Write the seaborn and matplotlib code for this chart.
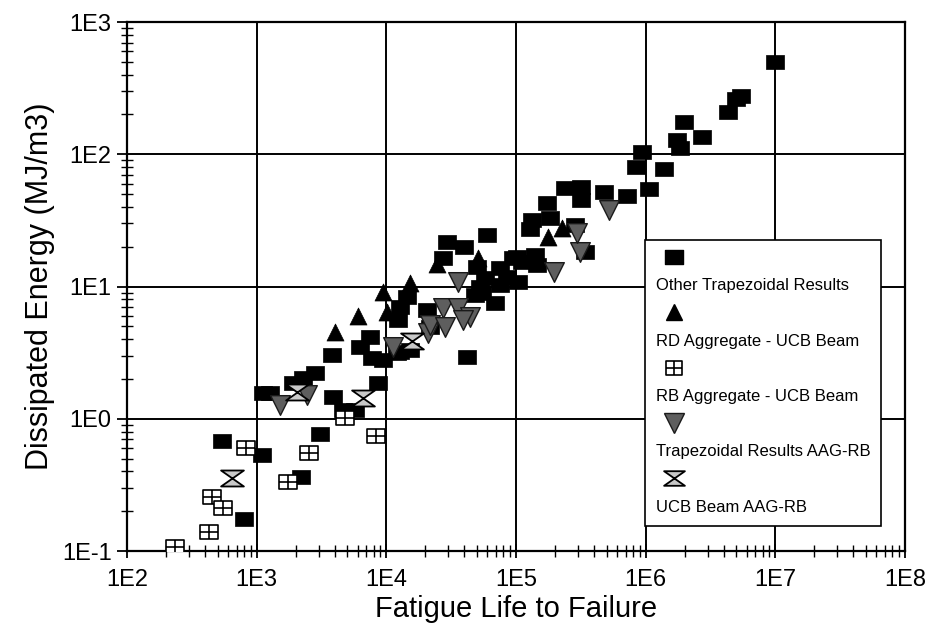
import numpy as np
import pandas as pd
import matplotlib
matplotlib.use("Agg")
import matplotlib.pyplot as plt
from matplotlib.path import Path
from matplotlib.lines import Line2D
from matplotlib.ticker import LogLocator, NullFormatter, FixedLocator, FixedFormatter
import seaborn as sns

# ---------------- data ----------------
other_x = [1.0e7, 5.0e6, 5.4e6, 4.3e6, 1.97e6, 2.7e6, 1.74e6, 1.84e6, 9.4e5, 8.4e5,
           1.38e6, 1.06e6, 7.2e5, 4.8e5, 3.2e5, 2.4e5, 3.2e5, 1.73e5, 1.82e5, 1.33e5,
           1.28e5, 2.84e5, 3.4e5, 9.5e4, 1.4e5, 1.45e5, 1.11e5, 7.5e4, 1.04e5, 8.5e4,
           5.8e4, 5.3e4, 4.8e4, 6.9e4, 6.0e4, 2.93e4, 4.0e4, 2.73e4, 5.0e4, 1.44e4,
           1.27e4, 1.23e4, 7.5e3, 6.3e3, 7.7e3, 9.4e3, 1.21e4, 3.8e3, 2.82e3, 2.28e3,
           1.9e3, 1.12e3, 1.27e3, 8.6e3, 3.9e3, 4.6e3, 5.7e3, 2.06e4, 2.17e4, 4.2e4,
           5.5e4, 7.5e4, 1.27e4, 1.52e4, 540, 1.1e3, 800, 2.2e3, 3.08e3, 1.02e5]
other_y = [500, 260, 275, 208, 175, 135, 128, 111, 104, 80,
           77, 55, 48, 52, 57, 56, 45, 43, 33, 32,
           27, 29, 18.2, 16.4, 17.3, 14.5, 15.3, 13.8, 10.8, 11.8,
           11.6, 9.9, 8.6, 7.5, 24.5, 21.7, 19.9, 16.4, 14.0, 8.3,
           7.0, 5.6, 4.15, 3.5, 2.88, 2.78, 3.14, 3.03, 2.22, 2.03,
           1.86, 1.57, 1.57, 1.86, 1.46, 1.16, 1.16, 6.6, 4.9, 2.93,
           8.9, 10.3, 3.2, 3.3, 0.68, 0.53, 0.175, 0.363, 0.77, 16.7]

rd_x = [4.0e3, 6.0e3, 9.4e3, 1.01e4, 1.52e4, 2.45e4, 5.1e4, 1.76e5, 2.26e5]
rd_y = [4.5, 6.0, 9.1, 6.4, 10.6, 14.8, 16.4, 23.7, 27.7]

rb_x = [234, 428, 452, 549, 826, 1.74e3, 2.53e3, 8.3e3, 4.8e3]
rb_y = [0.107, 0.139, 0.256, 0.211, 0.60, 0.333, 0.55, 0.74, 1.01]

trap_x = [1.51e3, 2.44e3, 1.12e4, 2.1e4, 2.17e4, 2.73e4, 3.56e4, 4.4e4, 2.83e4, 3.9e4,
          3.56e4, 1.96e5, 3.1e5, 2.95e5, 5.2e5]
trap_y = [1.27, 1.51, 3.5, 4.45, 5.1, 6.9, 6.9, 5.9, 4.95, 5.6,
          10.8, 12.9, 18.2, 25.4, 37.9]

ucb_x = [646, 2.05e3, 6.6e3, 1.57e4]
ucb_y = [0.356, 1.6, 1.44, 3.9]

labels = ["Other Trapezoidal Results", "RD Aggregate - UCB Beam",
          "RB Aggregate - UCB Beam", "Trapezoidal Results AAG-RB",
          "UCB Beam AAG-RB"]
x_ticks = [1e2, 1e3, 1e4, 1e5, 1e6, 1e7, 1e8]
x_ticklabels = ["1E2", "1E3", "1E4", "1E5", "1E6", "1E7", "1E8"]
y_ticks = [1e-1, 1e0, 1e1, 1e2, 1e3]
y_ticklabels = ["1E-1", "1E0", "1E1", "1E2", "1E3"]

# ---------------- markers ----------------
rect_marker = Path([(-1, -0.75), (1, -0.75), (1, 0.75), (-1, 0.75), (-1, -0.75)],
                   [Path.MOVETO, Path.LINETO, Path.LINETO, Path.LINETO, Path.CLOSEPOLY])
grid_marker = Path([(-1, -0.8), (1, -0.8), (1, 0.8), (-1, 0.8), (-1, -0.8),
                    (0, -0.8), (0, 0.8), (-1, 0), (1, 0)],
                   [Path.MOVETO, Path.LINETO, Path.LINETO, Path.LINETO, Path.CLOSEPOLY,
                    Path.MOVETO, Path.LINETO, Path.MOVETO, Path.LINETO])
hour_marker = Path([(-1, 0.7), (1, 0.7), (-1, -0.7), (1, -0.7), (-1, 0.7)],
                   [Path.MOVETO, Path.LINETO, Path.LINETO, Path.LINETO, Path.CLOSEPOLY])

sns.set_theme(style="white")
plt.rcParams["font.family"] = ["Liberation Sans", "DejaVu Sans"]
plt.rcParams["text.color"] = "black"
plt.rcParams["axes.labelcolor"] = "black"
plt.rcParams["xtick.color"] = "black"
plt.rcParams["ytick.color"] = "black"

fig = plt.figure(figsize=(9.38, 6.42), dpi=100)
ax = fig.add_axes([0.1354, 0.1417, 0.8294, 0.824])

series = [
    (other_x, other_y, dict(marker=rect_marker, s=175, color="black", edgecolor="black", linewidth=0.5)),
    (rd_x, rd_y, dict(marker="^", s=150, color="black", edgecolor="black", linewidth=0.5)),
    (rb_x, rb_y, dict(marker=grid_marker, s=180, color="white", edgecolor="black", linewidth=1.2)),
    (trap_x, trap_y, dict(marker="v", s=200, color="#5e5e5e", edgecolor="#1a1a1a", linewidth=1.0)),
    (ucb_x, ucb_y, dict(marker=hour_marker, s=270, color="#c8c8c8", edgecolor="black", linewidth=1.3)),
]
for xs, ys, kw in series:
    df = pd.DataFrame({"x": xs, "y": ys})
    sns.scatterplot(data=df, x="x", y="y", ax=ax, legend=False, zorder=3, **kw)

ax.set_xscale("log")
ax.set_yscale("log")
ax.set_xlim(1e2, 1e8)
ax.set_ylim(1e-1, 1e3)

ax.xaxis.set_major_locator(FixedLocator(x_ticks))
ax.xaxis.set_major_formatter(FixedFormatter(x_ticklabels))
ax.yaxis.set_major_locator(FixedLocator(y_ticks))
ax.yaxis.set_major_formatter(FixedFormatter(y_ticklabels))
ax.xaxis.set_minor_locator(LogLocator(base=10, subs=np.arange(2, 10), numticks=20))
ax.yaxis.set_minor_locator(LogLocator(base=10, subs=np.arange(2, 10), numticks=20))
ax.xaxis.set_minor_formatter(NullFormatter())
ax.yaxis.set_minor_formatter(NullFormatter())

ax.tick_params(axis="both", which="minor", direction="inout", length=8, width=1.0,
               color="black")
ax.tick_params(axis="y", which="major", direction="out", length=7, width=1.3,
               color="black", labelsize=17, pad=4)
ax.tick_params(axis="x", which="major", direction="inout", length=10, width=1.3,
               color="black", labelsize=17, pad=8)
ax.tick_params(left=True, bottom=True, which="both")

ax.grid(True, which="major", color="black", linewidth=1.4)
ax.set_axisbelow(True)
for sp in ax.spines.values():
    sp.set_color("black")
    sp.set_linewidth(1.6)

ax.set_xlabel("Fatigue Life to Failure", fontsize=21, labelpad=3)
ax.set_ylabel("Dissipated Energy (MJ/m3)", fontsize=22, labelpad=5)

# legend: marker row, then label row
handles = []
leg_labels = []
proto = [
    dict(marker=rect_marker, markersize=13, markerfacecolor="black", markeredgecolor="black"),
    dict(marker="^", markersize=12, markerfacecolor="black", markeredgecolor="black"),
    dict(marker=grid_marker, markersize=12, markerfacecolor="white", markeredgecolor="black", markeredgewidth=1.2),
    dict(marker="v", markersize=14, markerfacecolor="#5e5e5e", markeredgecolor="#1a1a1a"),
    dict(marker=hour_marker, markersize=15, markerfacecolor="#c8c8c8", markeredgecolor="black", markeredgewidth=1.3),
]
for p, lab in zip(proto, labels):
    handles.append(Line2D([], [], linestyle="none", **p))
    leg_labels.append(" ")
    handles.append(Line2D([], [], linestyle="none", marker=None))
    leg_labels.append(lab)

leg = ax.legend(handles, leg_labels, loc="upper left", bbox_to_anchor=(0.666, 0.588),
                fontsize=12, frameon=True, fancybox=False, framealpha=1,
                edgecolor="black", handlelength=2.2, handletextpad=-2.2,
                labelspacing=0.76, borderpad=0.65, borderaxespad=0)
leg.get_frame().set_linewidth(1.2)
leg.set_zorder(5)

fig.savefig("out.png", dpi=100, facecolor="white")
